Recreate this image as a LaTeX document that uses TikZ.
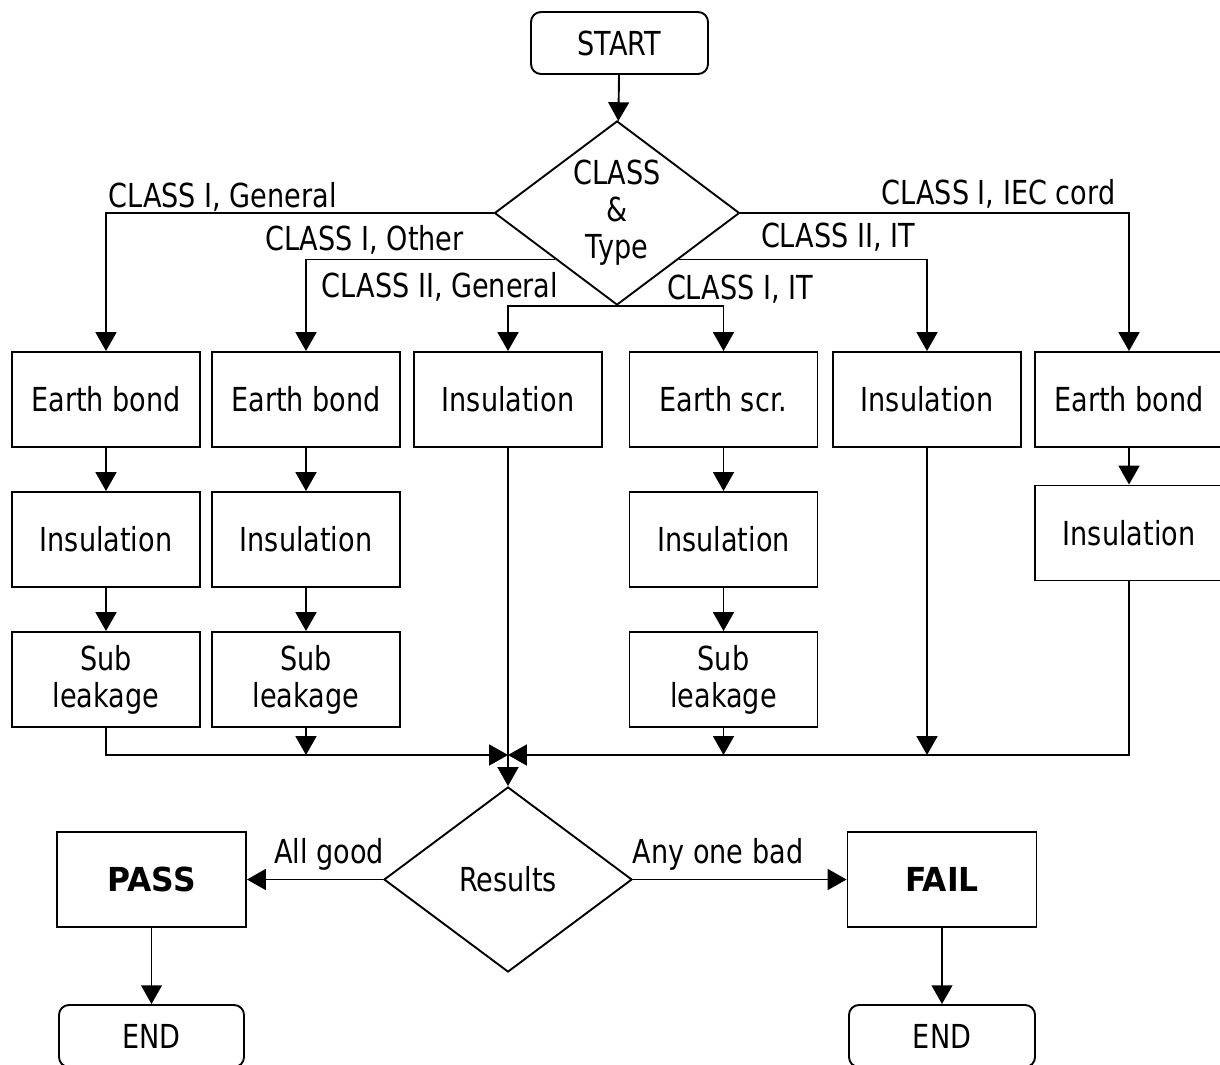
\documentclass[tikz,border=0pt]{standalone}
\usepackage{fontspec}
\setmainfont{DejaVu Sans}[FakeStretch=0.82,BoldFeatures={FakeStretch=0.95}]
\usetikzlibrary{shapes.geometric, arrows.meta}

\tikzset{
  box/.style={draw, minimum width=4.7cm, minimum height=2.375cm, align=center, inner sep=0pt},
  term/.style={draw, rounded corners=0.25cm, minimum width=4.425cm, minimum height=1.55cm},
  decide/.style={draw, diamond, aspect=1.33, inner sep=0pt, align=center},
  arr/.style={-{Triangle[length=0.47cm, width=0.52cm]}},
  lbl/.style={anchor=base, inner sep=0pt}
}

\begin{document}
\begin{tikzpicture}[x=0.025cm, y=-0.025cm, line width=1.35pt,
    font=\fontsize{23.5pt}{26.3pt}\selectfont]
  \useasboundingbox (0, 0) rectangle (1220, 1064);

  % Start and class decision
  \node[term] (start) at (619.5, 43) {START};
  \node[decide, minimum width=6.125cm, minimum height=4.6cm] (cls) at (617, 213) {CLASS\\\&\\Type};

  % Branch labels
  \node[lbl] (lgen) at (222.5, 207) {CLASS I, General};
  \node[lbl] (loth) at (364.5, 250) {CLASS I, Other};
  \node[lbl] (lgen2) at (440, 297) {CLASS II, General};
  \node[lbl] (lit) at (740, 299) {CLASS I, IT};
  \node[lbl] (lit2) at (838, 247) {CLASS II, IT};
  \node[lbl] (liec) at (998.5, 204) {CLASS I, IEC cord};

  % Row 1
  \node[box] (eb1) at (106, 399.5) {Earth bond};
  \node[box] (eb2) at (306, 399.5) {Earth bond};
  \node[box] (ins3) at (508, 399.5) {Insulation};
  \node[box] (es4) at (723.5, 399.5) {Earth scr.};
  \node[box] (ins5) at (927, 399.5) {Insulation};
  \node[box] (eb6) at (1129, 399.5) {Earth bond};
  % Row 2
  \node[box] (ins1) at (106, 539.5) {Insulation};
  \node[box] (ins2) at (306, 539.5) {Insulation};
  \node[box] (ins4) at (723.5, 539.5) {Insulation};
  \node[box] (ins6) at (1129, 533) {Insulation};
  % Row 3
  \node[box] (sub1) at (106, 679.5) {Sub\\leakage};
  \node[box] (sub2) at (306, 679.5) {Sub\\leakage};
  \node[box] (sub4) at (723.5, 679.5) {Sub\\leakage};

  % Results and outcomes
  \coordinate (join) at (508, 755);
  \node[decide, minimum width=6.2cm, minimum height=4.625cm] (res) at (508, 879.5) {Results};
  \node[box, minimum width=4.725cm] (pass) at (151.5, 879.5) {\textbf{PASS}};
  \node[box, minimum width=4.725cm] (fail) at (942, 879.5) {\textbf{FAIL}};
  \node[term, minimum width=4.625cm] (end1) at (151.5, 1036) {END};
  \node[term, minimum width=4.65cm] (end2) at (942, 1036) {END};
  \node[lbl] (lgood) at (329, 863) {All good};
  \node[lbl] (lbad) at (718, 863) {Any one bad};

  % Connectors from the top
  \draw[arr] (start) -- (cls);
  \draw[arr] (cls.west) -| (eb1.north);
  \draw[arr] (cls.south west) -| (eb2.north);
  \draw[arr] (cls.south) -| (ins3.north);
  \draw[arr] (cls.south) -| (es4.north);
  \draw[arr] (cls.south east) -| (ins5.north);
  \draw[arr] (cls.east) -| (eb6.north);

  % Columns
  \draw[arr] (eb1) -- (ins1);
  \draw[arr] (ins1) -- (sub1);
  \draw[arr] (eb2) -- (ins2);
  \draw[arr] (ins2) -- (sub2);
  \draw[arr] (es4) -- (ins4);
  \draw[arr] (ins4) -- (sub4);
  \draw[arr] (eb6) -- (ins6);

  % Collecting line
  \draw[arr] (sub1.south) |- (join);
  \draw[arr] (ins6.south) |- (join);
  \draw[arr] (sub2.south) -- (sub2.south |- join);
  \draw[arr] (sub4.south) -- (sub4.south |- join);
  \draw[arr] (ins5.south) -- (ins5.south |- join);
  \draw[arr] (ins3.south) -- (res.north);

  % Outcomes
  \draw[arr] (res.west) -- (pass.east);
  \draw[arr] (res.east) -- (fail.west);
  \draw[arr] (pass) -- (end1);
  \draw[arr] (fail) -- (end2);
\end{tikzpicture}
\end{document}
